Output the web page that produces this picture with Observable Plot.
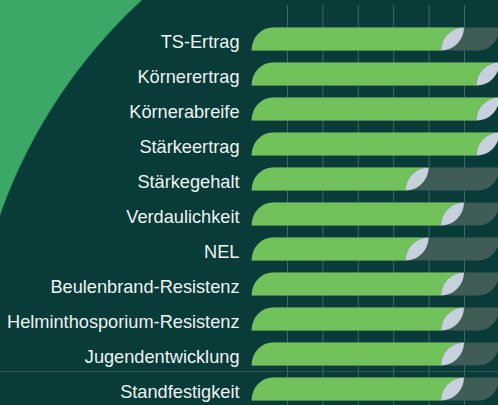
<!DOCTYPE html>
<html>
<head>
<meta charset="utf-8">
<script src="https://cdn.jsdelivr.net/npm/d3@7"></script>
<script src="https://cdn.jsdelivr.net/npm/@observablehq/plot@0.6"></script>
<style>
  html, body { margin: 0; padding: 0; }
  body { width: 498px; height: 405px; overflow: hidden; }
  #chart {
    width: 498px; height: 405px;
    background: radial-gradient(circle 533px at 502px 392px, #093b39 99.7%, #3ba867 100%);
  }
</style>
</head>
<body>
<div id="chart"></div>
<script>
const categories = [
  "TS-Ertrag", "Körnerertrag", "Körnerabreife", "Stärkeertrag", "Stärkegehalt",
  "Verdaulichkeit", "NEL", "Beulenbrand-Resistenz", "Helminthosporium-Resistenz",
  "Jugendentwicklung", "Standfestigkeit"
];
const values = [6, 7, 7, 7, 5, 6, 5, 6, 6, 6, 6];
const maxValue = 7;
const gridTicks = [1, 2, 3, 4, 5, 6, 7];

const data = categories.map((c, i) => ({category: c, value: values[i]}));

const colors = {
  bar: "#72c25c",
  track: "#405c57",
  leaf: "#c6d1dd",
  grid: "#446661",
  text: "#eef2f2"
};

function leafBars(index, scales) {
  const x = scales.x, y = scales.y;
  const h = 23, rc = 21, w = 23;
  const x0 = x(0), xMax = x(maxValue);
  const g = d3.create("svg:g");
  const yA = y(categories[categories.length - 2]);
  const yB = y(categories[categories.length - 1]);
  const ySep = (yA + yB) / 2;
  g.append("line")
    .attr("x1", 0).attr("x2", 498)
    .attr("y1", ySep).attr("y2", ySep)
    .attr("stroke", colors.grid).attr("stroke-opacity", 0.6).attr("stroke-width", 1);
  for (const d of data) {
    const cy = y(d.category);
    const top = cy - h / 2, bottom = cy + h / 2;
    const xv = x(d.value);
    g.append("path")
      .attr("d", `M${x0},${bottom}A${rc},${h} 0 0 1 ${x0 + rc},${top}L${xMax},${top}A${rc},${h} 0 0 1 ${xMax - rc},${bottom}Z`)
      .attr("fill", colors.track);
    g.append("path")
      .attr("d", `M${x0},${bottom}A${rc},${h} 0 0 1 ${x0 + rc},${top}L${xv},${top}A${w},${h} 0 0 0 ${xv - w},${bottom}Z`)
      .attr("fill", colors.bar);
    g.append("path")
      .attr("d", `M${xv - w},${bottom}A${w},${h} 0 0 1 ${xv},${top}A${w},${h} 0 0 1 ${xv - w},${bottom}Z`)
      .attr("fill", colors.leaf);
  }
  return g.node();
}

const chart = Plot.plot({
  width: 498,
  height: 405,
  marginTop: 5,
  marginBottom: 0,
  marginLeft: 251,
  marginRight: 0,
  x: {domain: [0, maxValue], range: [251.6, 499.4], axis: null},
  y: {type: "point", domain: categories, range: [35.5, 391.9], padding: 0, axis: null},
  style: {background: "transparent", fontFamily: "'Liberation Sans', Arial, sans-serif"},
  marks: [
    Plot.ruleX(gridTicks, {x: d => d, stroke: colors.grid, strokeWidth: 1}),
    leafBars,
    Plot.text(data, {
      x: () => 0, y: "category", text: "category",
      textAnchor: "end", dx: -12.6, dy: 3, lineAnchor: "middle",
      fontSize: 18.2, fill: colors.text
    })
  ]
});
document.getElementById("chart").appendChild(chart);
</script>
</body>
</html>
